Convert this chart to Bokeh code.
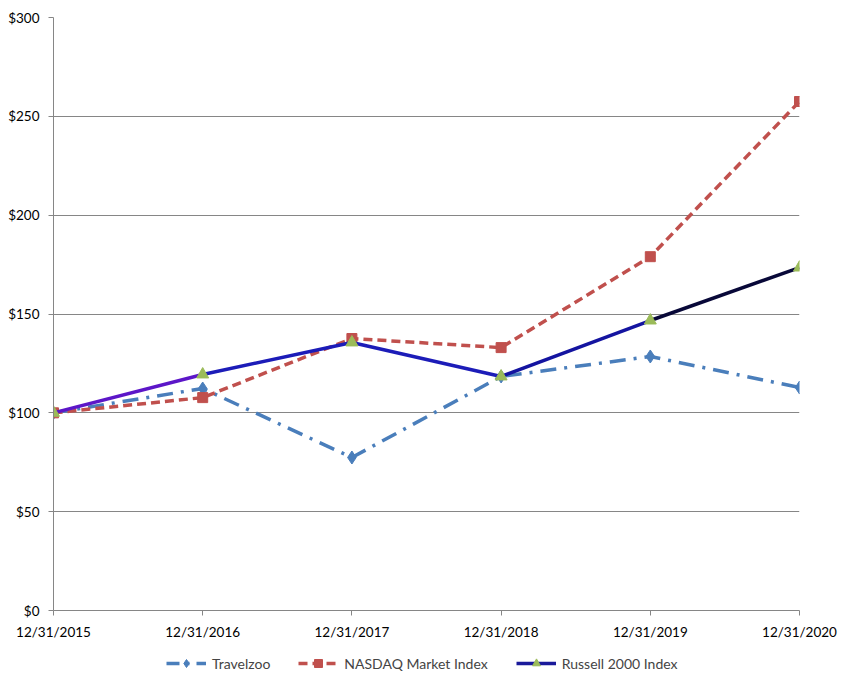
from bokeh.plotting import figure
from bokeh.layouts import column
from bokeh.models import Range1d, FixedTicker, NumeralTickFormatter, Legend, LegendItem
from bokeh.embed import file_html
from bokeh.resources import INLINE

dates = ["12/31/2015", "12/31/2016", "12/31/2017", "12/31/2018", "12/31/2019", "12/31/2020"]
travelzoo = [100, 112.3, 77.4, 118.4, 128.5, 112.8]
nasdaq = [100, 107.7, 137.6, 133.0, 179.0, 257.5]
russell = [100, 119.4, 135.6, 118.4, 146.7, 173.5]
y_ticks = [0, 50, 100, 150, 200, 250, 300]
series_names = ["Travelzoo", "NASDAQ Market Index", "Russell 2000 Index"]

xs = list(range(len(dates)))
FONT = "Lato"
TZ_C, NQ_C, RU_C, TRI_C = "#4a7ebb", "#c0504d", "#1a1a9a", "#9bbb59"

p = figure(width=855, height=645, output_backend="svg", toolbar_location=None,
           x_range=Range1d(0, len(dates) - 1), y_range=Range1d(0, 300),
           min_border_left=53, min_border_right=56, min_border_top=17, min_border_bottom=35)
p.outline_line_color = None
p.xgrid.grid_line_color = None
p.ygrid.grid_line_color = "#868686"
p.ygrid.grid_line_width = 1

p.yaxis.ticker = FixedTicker(ticks=y_ticks)
p.yaxis.formatter = NumeralTickFormatter(format="$0")
p.xaxis.ticker = FixedTicker(ticks=xs)
p.xaxis.major_label_overrides = {i: d for i, d in enumerate(dates)}
for ax in (p.xaxis, p.yaxis):
    ax.axis_line_color = "#868686"
    ax.major_tick_line_color = "#868686"
    ax.major_tick_out = 5
    ax.major_tick_in = 0
    ax.minor_tick_line_color = None
    ax.major_label_text_font = FONT
    ax.major_label_text_font_size = "13.5px"
    ax.major_label_text_color = "#000000"
p.xaxis.major_label_standoff = 8
p.yaxis.major_label_standoff = 9

# Travelzoo
p.line(xs, travelzoo, line_color=TZ_C, line_width=3.5, line_dash="16 8 3 8")
p.scatter(xs, travelzoo, marker="diamond", size=13, fill_color=TZ_C, line_color=TZ_C)

# NASDAQ
p.line(xs, nasdaq, line_color=NQ_C, line_width=3.5, line_dash="9 5")
p.scatter(xs, nasdaq, marker="square", size=10, fill_color=NQ_C, line_color=NQ_C)

# Russell (segment colours vary)
seg_colors = ["#5c16c8", "#1c1cb8", "#1c1cb8", "#1414a0", "#080838"]
p.multi_line([[xs[i], xs[i + 1]] for i in range(len(xs) - 1)],
             [[russell[i], russell[i + 1]] for i in range(len(xs) - 1)],
             line_color=seg_colors, line_width=3.5)
p.scatter(xs, russell, marker="triangle", size=12, fill_color=TRI_C, line_color=TRI_C)

# Legend strip (separate figure; its dummy renderers sit outside its visible range)
lg = figure(width=855, height=36, output_backend="svg", toolbar_location=None,
            x_range=Range1d(1000, 1001), y_range=Range1d(1000, 1001),
            min_border_left=0, min_border_right=0, min_border_top=0, min_border_bottom=0)
lg.axis.visible = False
lg.grid.grid_line_color = None
lg.outline_line_color = None
l1 = lg.line(xs, travelzoo, line_color=TZ_C, line_width=3.5, line_dash="13 7 3 7")
m1 = lg.scatter(xs, travelzoo, marker="diamond", size=10, fill_color=TZ_C, line_color=TZ_C)
l2 = lg.line(xs, nasdaq, line_color=NQ_C, line_width=3.5, line_dash="9 5")
m2 = lg.scatter(xs, nasdaq, marker="square", size=9, fill_color=NQ_C, line_color=NQ_C)
l3 = lg.line(xs, russell, line_color=RU_C, line_width=3.5)
m3 = lg.scatter(xs, russell, marker="triangle", size=10, fill_color=TRI_C, line_color=TRI_C)

legend = Legend(items=[
    LegendItem(label=series_names[0], renderers=[l1, m1]),
    LegendItem(label=series_names[1], renderers=[l2, m2]),
    LegendItem(label=series_names[2], renderers=[l3, m3]),
], orientation="horizontal", location=(113, 8), glyph_width=40, label_text_font=FONT,
    label_text_font_size="14px", border_line_color=None, background_fill_alpha=0,
    spacing=28, padding=4, margin=0, label_standoff=6)
lg.add_layout(legend)

open("out.html", "w").write(file_html(column(p, lg, spacing=0), INLINE))
